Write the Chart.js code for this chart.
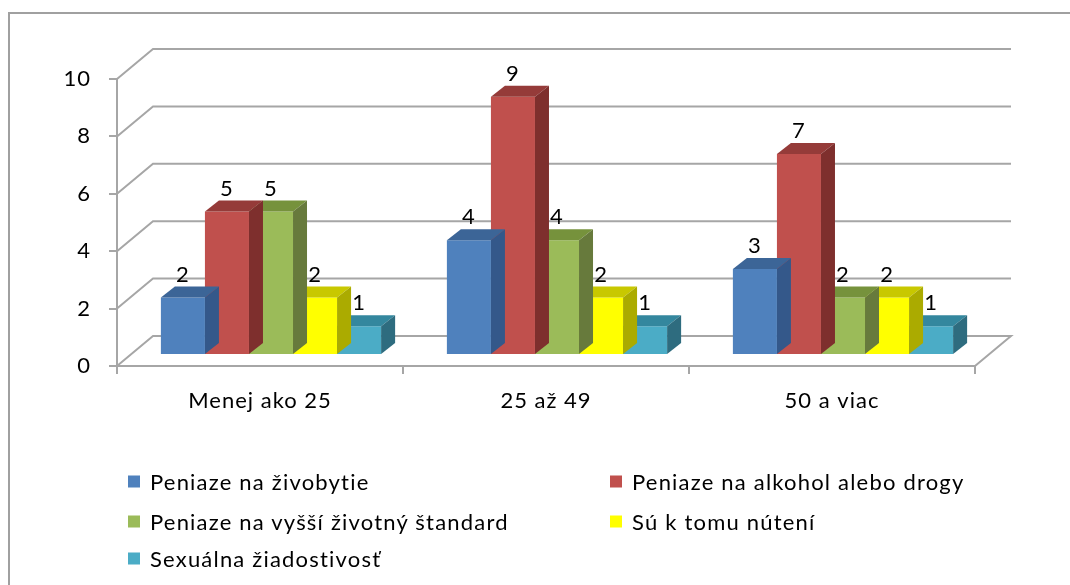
<!DOCTYPE html>
<html>
<head>
<meta charset="utf-8">
<script src="https://cdn.jsdelivr.net/npm/chart.js@4/dist/chart.umd.min.js"></script>
<style>
    body { margin: 0; background: #fff; overflow: hidden; }
    #wrap { position: relative; width: 1070px; height: 585px; }
    #frame { position: absolute; left: 8px; top: 12px; width: 1100px; height: 600px;
             border-top: 2px solid #a0a0a0; border-left: 2px solid #a0a0a0; }
    #c { position: absolute; left: 0; top: 0; }
    .leg { position: absolute; font: 22px Lato, sans-serif; letter-spacing: 1.2px; color: #000; white-space: nowrap;
           transform: translateY(-50%); display: flex; align-items: center; }
    .leg span.box { display: inline-block; width: 12px; height: 12px; margin-right: 10px; }
</style>
</head>
<body>
<div id="wrap">
    <div id="frame"></div>
    <canvas id="c" width="1070" height="585"></canvas>
    <div id="legend"></div>
</div>
<script>
// Data
const categories = ['Menej ako 25', '25 až 49', '50 a viac'];
const seriesNames = [
    'Peniaze na živobytie',
    'Peniaze na alkohol alebo drogy',
    'Peniaze na vyšší životný štandard',
    'Sú k tomu nútení',
    'Sexuálna žiadostivosť'
];
const zivobytie = [2, 4, 3];
const alkohol = [5, 9, 7];
const standard = [5, 4, 2];
const nutenie = [2, 2, 2];
const sexualna = [1, 1, 1];
const yTicks = [0, 2, 4, 6, 8, 10];

// Colours: front, top, side
const frontColors = ['#4F81BD', '#C0504D', '#9BBB59', '#FFFF00', '#4BACC6'];
const topColors = ['#3C6597', '#953B39', '#76923C', '#C8C800', '#34879E'];
const sideColors = ['#34588A', '#7E2F2D', '#677A3C', '#ABAB00', '#2E6C7F'];

const values = [zivobytie, alkohol, standard, nutenie, sexualna];
const FONT = 'Lato, sans-serif';

// 3D offsets
const wallX = 36, wallY = -30;   // back wall
const barX = 11, barY = -11;     // bars sit mid-depth
const sideX = 14, sideY = -11;   // bar depth

const threeD = {
    id: 'threeD',
    beforeDraw(chart) {
        // canvas resize resets the context, so set spacing here
        chart.ctx.letterSpacing = '1px';
    },
    beforeDatasetsDraw(chart) {
        const ctx = chart.ctx;
        const y = chart.scales.y;
        const a = chart.chartArea;
        ctx.save();
        ctx.strokeStyle = '#a6a6a6';
        ctx.lineWidth = 2;
        yTicks.forEach(v => {
            const py = y.getPixelForValue(v);
            ctx.beginPath();
            ctx.moveTo(a.left, py);
            ctx.lineTo(a.left + wallX, py + wallY);
            ctx.lineTo(a.right + wallX, py + wallY);
            if (v === 0) ctx.lineTo(a.right, py);
            ctx.stroke();
        });
        ctx.restore();
    },
    beforeDatasetDraw(chart) {
        chart.ctx.save();
        chart.ctx.translate(barX, barY);
    },
    afterDatasetDraw(chart, args) {
        const ctx = chart.ctx;
        const i = args.index;
        args.meta.data.forEach(el => {
            const l = el.x - el.width / 2, r = el.x + el.width / 2;
            ctx.fillStyle = topColors[i];
            ctx.beginPath();
            ctx.moveTo(l, el.y);
            ctx.lineTo(l + sideX, el.y + sideY);
            ctx.lineTo(r + sideX, el.y + sideY);
            ctx.lineTo(r, el.y);
            ctx.closePath();
            ctx.fill();
            ctx.fillStyle = sideColors[i];
            ctx.beginPath();
            ctx.moveTo(r, el.y);
            ctx.lineTo(r + sideX, el.y + sideY);
            ctx.lineTo(r + sideX, el.base + sideY);
            ctx.lineTo(r, el.base);
            ctx.closePath();
            ctx.fill();
        });
        ctx.restore();
    },
    afterDatasetsDraw(chart) {
        const ctx = chart.ctx;
        ctx.save();
        ctx.fillStyle = '#000';
        ctx.font = '22px ' + FONT;
        ctx.textAlign = 'center';
        ctx.textBaseline = 'middle';
        chart.data.datasets.forEach((ds, i) => {
            chart.getDatasetMeta(i).data.forEach((el, j) => {
                ctx.fillText(ds.data[j], el.x + barX, el.y + barY - 23);
            });
        });
        ctx.restore();
    }
};

new Chart(document.getElementById('c'), {
    type: 'bar',
    data: {
        labels: categories,
        datasets: seriesNames.map((name, i) => ({
            label: name,
            data: values[i],
            backgroundColor: frontColors[i],
            borderWidth: 0,
            categoryPercentage: 0.77,
            barPercentage: 1
        }))
    },
    options: {
        responsive: false,
        animation: false,
        layout: { padding: { left: 0, right: 95, top: 79, bottom: 159 } },
        plugins: { legend: { display: false }, tooltip: { enabled: false } },
        scales: {
            x: {
                afterFit: s => { s.height = 60; },
                border: { color: '#a6a6a6', width: 2 },
                grid: { drawOnChartArea: false, color: '#a6a6a6', lineWidth: 2, tickLength: 8, offset: true },
                ticks: { color: '#000', font: { family: FONT, size: 22 }, padding: 14 }
            },
            y: {
                min: 0,
                max: 10,
                afterFit: s => { s.width = 117; },
                afterBuildTicks: s => { s.ticks = yTicks.map(v => ({ value: v })); },
                border: { color: '#a6a6a6', width: 2 },
                grid: { drawOnChartArea: false, color: '#a6a6a6', lineWidth: 2, tickLength: 8 },
                ticks: { color: '#000', font: { family: FONT, size: 22 }, padding: 18 }
            }
        }
    },
    plugins: [threeD]
});

// Legend in two columns
const legendX = [128, 610];
const legendY = [481, 521, 558];
const legend = document.getElementById('legend');
seriesNames.forEach((name, i) => {
    const d = document.createElement('div');
    d.className = 'leg';
    d.style.left = legendX[i % 2] + 'px';
    d.style.top = legendY[Math.floor(i / 2)] + 'px';
    d.innerHTML = '<span class="box" style="background:' + frontColors[i] + '"></span>' + name;
    legend.appendChild(d);
});
</script>
</body>
</html>
